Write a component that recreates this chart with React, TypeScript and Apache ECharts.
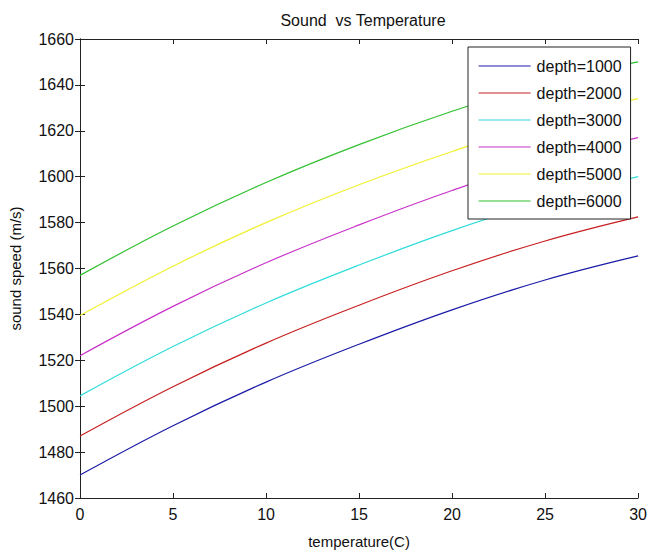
import React, { useEffect, useRef } from "react";
import * as echarts from "echarts";

const temperatures = [0, 5, 10, 15, 20, 25, 30];
const depthNames = ["depth=1000", "depth=2000", "depth=3000", "depth=4000", "depth=5000", "depth=6000"];
const depth1000 = [1470, 1491.5, 1510.5, 1527, 1542, 1555, 1565.5];
const depth2000 = [1487, 1508.5, 1527.5, 1544, 1559, 1572, 1582.5];
const depth3000 = [1504.5, 1526, 1545, 1561.5, 1576.5, 1589.5, 1600];
const depth4000 = [1522, 1543.5, 1562.5, 1579, 1594, 1607, 1617];
const depth5000 = [1539.5, 1561, 1580, 1596.5, 1611, 1624, 1634];
const depth6000 = [1557, 1578.5, 1597.5, 1614, 1628.5, 1641, 1650];
const seriesValues = [depth1000, depth2000, depth3000, depth4000, depth5000, depth6000];
const colors = ["#1c1ca8", "#c82020", "#30dcdc", "#c832c8", "#f0f030", "#30c030"];

const FONT = "'Liberation Sans', Arial, sans-serif";

export default function App() {
  const ref = useRef<HTMLDivElement>(null);
  useEffect(() => {
    const chart = echarts.init(ref.current!, null, { renderer: "svg" });
    const axisLine = { show: true, lineStyle: { color: "#222", width: 1 } };
    const tick = { show: true, inside: true, length: 5, lineStyle: { color: "#222" } };
    const plain = (v: number) => String(v);
    chart.setOption({
      animation: false,
      backgroundColor: "#ffffff",
      title: {
        text: "Sound  vs Temperature",
        left: 358,
        top: 7,
        textAlign: "center",
        textStyle: { fontFamily: FONT, fontSize: 16, fontWeight: "normal", color: "#111" },
      },
      grid: { left: 76, top: 39, width: 565, height: 463, containLabel: false },
      legend: {
        orient: "vertical",
        left: 468,
        top: 47,
        padding: [11, 9, 10, 10],
        itemWidth: 52,
        itemHeight: 14,
        itemGap: 11,
        backgroundColor: "#ffffff",
        borderColor: "#222",
        borderWidth: 1,
        itemStyle: { opacity: 0 },
        lineStyle: { width: 1.2 },
        textStyle: { fontFamily: FONT, fontSize: 16, color: "#111", padding: [0, 0, 0, 1] },
        data: depthNames,
      },
      xAxis: [
        {
          type: "value",
          min: 0,
          max: 30,
          interval: 5,
          name: "temperature(C)",
          nameLocation: "middle",
          nameGap: 36,
          nameTextStyle: { fontFamily: FONT, fontSize: 15, color: "#111" },
          axisLine,
          axisTick: tick,
          splitLine: { show: false },
          axisLabel: { fontFamily: FONT, fontSize: 16, color: "#111", margin: 8, formatter: plain },
        },
        {
          type: "value",
          position: "top",
          min: 0,
          max: 30,
          interval: 5,
          axisLine,
          axisTick: tick,
          splitLine: { show: false },
          axisLabel: { show: false },
        },
      ],
      yAxis: [
        {
          type: "value",
          min: 1460,
          max: 1660,
          interval: 20,
          name: "sound speed (m/s)",
          nameLocation: "middle",
          nameGap: 57,
          nameTextStyle: { fontFamily: FONT, fontSize: 15, color: "#111" },
          axisLine,
          axisTick: tick,
          splitLine: { show: false },
          axisLabel: { fontFamily: FONT, fontSize: 16, color: "#111", margin: 6, formatter: plain },
        },
        {
          type: "value",
          position: "right",
          min: 1460,
          max: 1660,
          interval: 20,
          axisLine,
          axisTick: tick,
          splitLine: { show: false },
          axisLabel: { show: false },
        },
      ],
      series: seriesValues.map((vals, i) => ({
        name: depthNames[i],
        type: "line",
        symbol: "none",
        smooth: 0.4,
        xAxisIndex: 0,
        yAxisIndex: 0,
        color: colors[i],
        lineStyle: { color: colors[i], width: 1.2 },
        data: temperatures.map((t, j) => [t, vals[j]]),
      })),
    });
    return () => chart.dispose();
  }, []);
  return (
    <div
      ref={ref}
      style={{ position: "fixed", left: 0, top: 0, width: 650, height: 554 }}
    />
  );
}
